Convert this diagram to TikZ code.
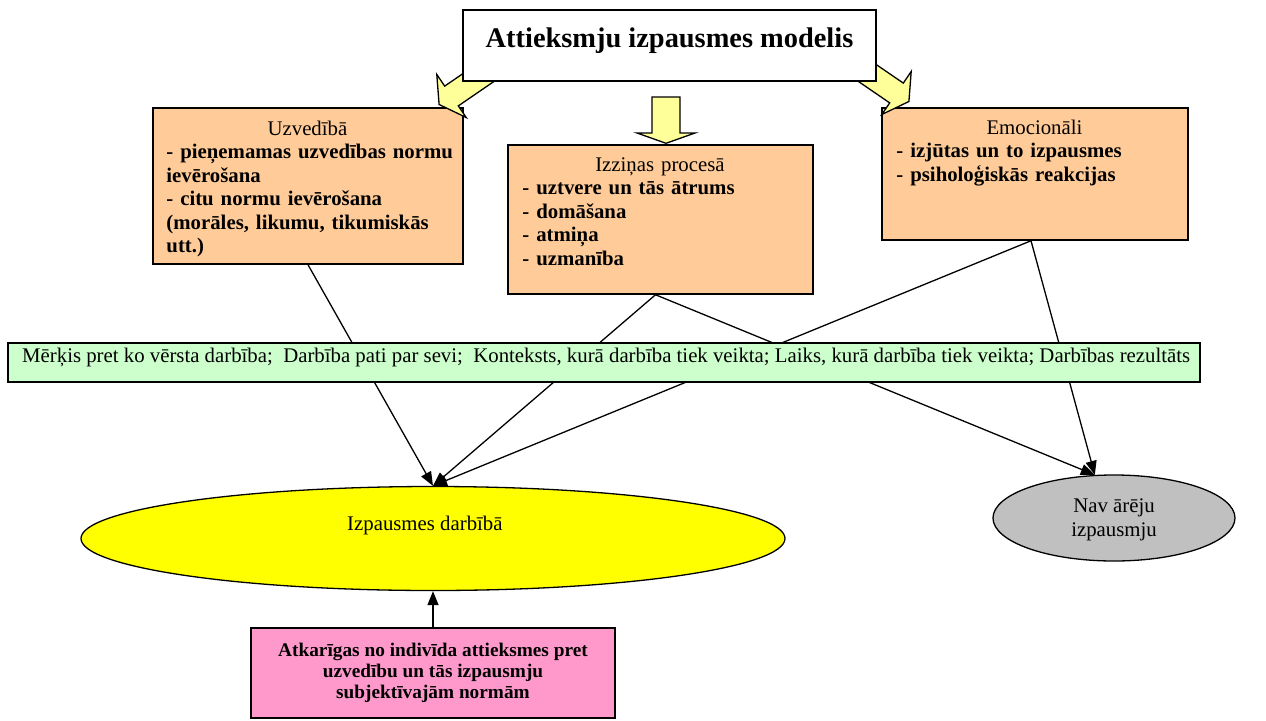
\documentclass[tikz,border=0pt]{standalone}
\usepackage{fontspec}
\setmainfont{Liberation Serif}
\usetikzlibrary{arrows.meta,shapes.geometric}

\definecolor{boxorange}{HTML}{FFCC99}
\definecolor{bargreen}{HTML}{CCFFCC}
\definecolor{arrowyellow}{HTML}{FFFF99}
\definecolor{ellyellow}{HTML}{FFFF00}
\definecolor{ellgray}{HTML}{C0C0C0}
\definecolor{boxpink}{HTML}{FF99CC}

\newcommand\bodysize{\fontsize{20.8}{23.4}\selectfont}
\newcommand\pinksize{\fontsize{19.3}{21}\selectfont}
\newcommand\titlesize{\fontsize{28.4}{32}\selectfont}
% centred heading line of a given width, then a line break
\newcommand\headline[2]{\makebox[#1]{\strut #2}\\}

\begin{document}
\begin{tikzpicture}[x=1pt,y=-1pt,
  box/.style={draw=black, line width=1.5pt, inner sep=0pt, rectangle},
  catbox/.style={box, fill=boxorange},
  cattext/.style={anchor=north west, inner sep=0pt, align=left, text width=330pt, font=\bodysize},
  oval/.style={ellipse, draw=black, line width=1.3pt, inner sep=0pt, align=center, font=\bodysize},
  conn/.style={line width=1.3pt, -{Triangle[length=14pt,width=11pt]}},
  blockarrow/.style={draw=black, line width=1.3pt, fill=arrowyellow, line join=miter}
]
\useasboundingbox (0,0) rectangle (1266,720);

% three category boxes
\node[catbox, minimum width=310pt, minimum height=156pt] (uzv) at (308,186) {};
\node[catbox, minimum width=305pt, minimum height=149pt] (mid) at (660.5,219.5) {};
\node[catbox, minimum width=306pt, minimum height=132pt] (emo) at (1035,174) {};

\node[cattext] (uzvtext) at ([xshift=14pt,yshift=-11.6pt]uzv.north west)
  {\headline{282pt}{Uzvedībā}\textbf{- pieņemamas uzvedības normu\\ievērošana\\- citu normu ievērošana\\(morāles, likumu, tikumiskās\\utt.)}};
\node[cattext] (midtext) at ([xshift=15pt,yshift=-10.6pt]mid.north west)
  {\headline{275pt}{Izziņas procesā}\textbf{- uztvere un tās ātrums\\- domāšana\\- atmiņa\\- uzmanība}};
\node[cattext] (emotext) at ([xshift=15pt,yshift=-10.6pt]emo.north west)
  {\headline{276pt}{Emocionāli}\textbf{- izjūtas un to izpausmes\\- psiholoģiskās reakcijas}};

% outcomes
\node[oval, fill=ellyellow, minimum width=704pt, minimum height=104pt] (yel) at (433,538.5) {};
\node[anchor=base west, inner sep=0pt, font=\bodysize] (yeltext) at (347,530) {Izpausmes darbībā};
\node[oval, fill=ellgray, minimum width=242pt, minimum height=86pt] (gray) at (1114,518) {};
\node[align=center, inner sep=0pt, font=\bodysize] (graytext) at (1114,520) {Nav ārēju\\izpausmju};

\node[box, fill=boxpink, minimum width=364pt, minimum height=90pt, align=center,
  font=\pinksize\bfseries] (pink) at (433,673)
  {Atkarīgas no indivīda attieksmes pret\\uzvedību un tās izpausmju\\subjektīvajām normām};

% connectors (run behind the action bar)
\draw[conn] (uzv.south) -- (yel.north);
\draw[conn] ([xshift=-5pt]mid.south) -- (yel.north);
\draw[conn] ([xshift=-5pt]mid.south) -- (gray.114);
\draw[conn] ([xshift=-4pt]emo.south) -- (yel.north);
\draw[conn] ([xshift=-4pt]emo.south) -- (gray.114);
\draw[conn] (pink) -- (yel);

% action bar
\node[box, fill=bargreen, minimum width=1192pt, minimum height=39pt] (bar) at (604,362.5) {};
\node[anchor=base west, inner sep=0pt, font=\bodysize] (bartext) at (22,362)
  {Mērķis pret ko vērsta darbība;\ \ Darbība pati par sevi;\ \ Konteksts, kurā darbība tiek veikta; Laiks, kurā darbība tiek veikta; Darbības rezultāts};

% block arrows from the title
\draw[blockarrow] (519,35.2) -- (444.7,86.1) -- (436.8,74.5) -- (439.1,104.5)
  -- (466.2,117.5) -- (458.3,105.9) -- (532.6,55) -- cycle;
\draw[blockarrow] (652,97) -- (680,97) -- (680,133) -- (695,133) -- (666,143.3)
  -- (637,133) -- (652,133) -- cycle;
\draw[blockarrow] (829,32.2) -- (903.3,83.1) -- (911.2,71.5) -- (908.9,101.5)
  -- (881.8,114.5) -- (889.7,102.9) -- (815.4,52) -- cycle;

% title
\node[box, fill=white, minimum width=413pt, minimum height=71pt] (title) at (669.5,45.5) {};
\node[anchor=base, inner sep=0pt, font=\titlesize\bfseries] (titletext) at (669.5,47)
  {Attieksmju izpausmes modelis};
\end{tikzpicture}
\end{document}
